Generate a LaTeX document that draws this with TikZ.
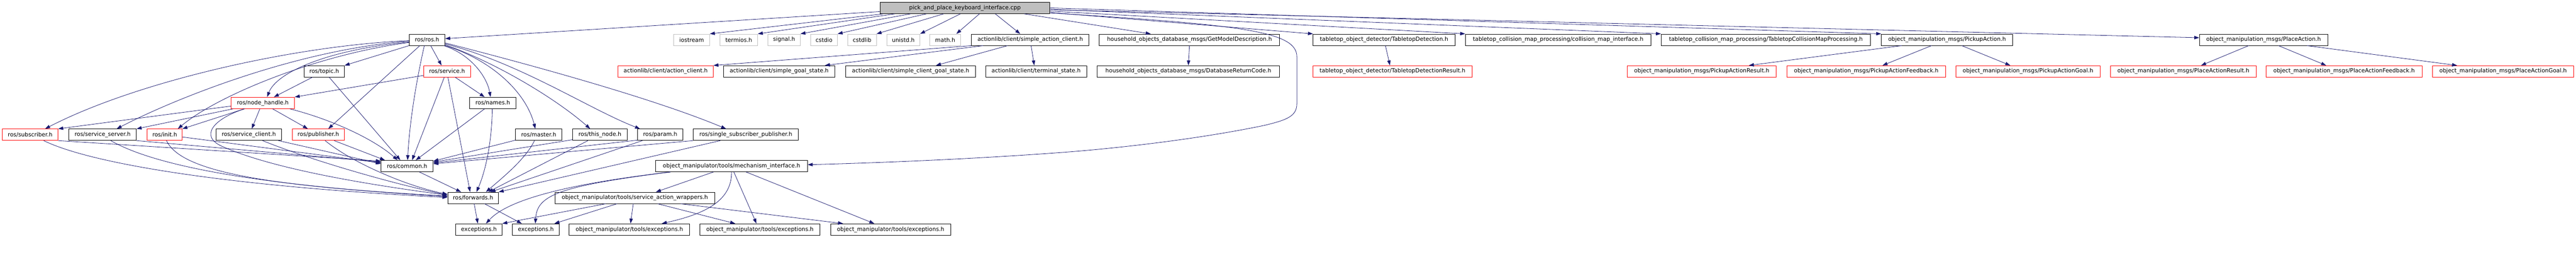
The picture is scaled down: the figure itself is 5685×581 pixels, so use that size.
\documentclass[tikz,border=0pt]{standalone}
\usepackage{fontspec}
\setmainfont{DejaVu Sans}
\usetikzlibrary{arrows.meta,calc}
\definecolor{edgec}{HTML}{191970}
\definecolor{redb}{HTML}{FF0000}
\definecolor{grayb}{HTML}{BFBFBF}
\tikzset{
  bx/.style={rectangle, inner sep=0pt, minimum height=25pt, line width=1pt, text=black,
             font=\fontsize{12.4pt}{14pt}\selectfont},
  nb/.style={bx, draw=black},
  nr/.style={bx, draw=redb},
  ng/.style={bx, draw=grayb},
  nroot/.style={bx, draw=black, fill=grayb},
  dep/.style={draw=edgec, line width=0.9pt, -{Triangle[length=11pt,width=7.5pt]}}
}
\begin{document}
\begin{tikzpicture}[x=1pt,y=-1pt]
\useasboundingbox (0,0) rectangle (5685,581);
% row 0
\node[nroot, minimum width=375pt] (root) at (2129.5,17.5) {pick\_and\_place\_keyboard\_interface.cpp};
% row 1
\node[nb, minimum width=79pt] (ros) at (942.5,87.5) {ros/ros.h};
\node[ng, minimum width=79pt] (iostream) at (1526.5,87.5) {iostream};
\node[ng, minimum width=83pt] (termios) at (1630.5,87.5) {termios.h};
\node[ng, minimum width=71pt] (signal) at (1730.5,87.5) {signal.h};
\node[ng, minimum width=59pt] (cstdio) at (1818.5,87.5) {cstdio};
\node[ng, minimum width=63pt] (cstdlib) at (1902.5,87.5) {cstdlib};
\node[ng, minimum width=73pt] (unistd) at (1993.5,87.5) {unistd.h};
\node[ng, minimum width=68pt] (math) at (2086,87.5) {math.h};
\node[nb, minimum width=259pt] (sac) at (2273.5,87.5) {actionlib/client/simple\_action\_client.h};
\node[nb, minimum width=398pt] (gmd) at (2625,87.5) {household\_objects\_database\_msgs/GetModelDescription.h};
\node[nb, minimum width=313pt] (td) at (3054.5,87.5) {tabletop\_object\_detector/TabletopDetection.h};
\node[nb, minimum width=409pt] (cmi) at (3438.5,87.5) {tabletop\_collision\_map\_processing/collision\_map\_interface.h};
\node[nb, minimum width=462pt] (tcmp) at (3897,87.5) {tabletop\_collision\_map\_processing/TabletopCollisionMapProcessing.h};
\node[nb, minimum width=290pt] (pa) at (4297,87.5) {object\_manipulation\_msgs/PickupAction.h};
\node[nb, minimum width=283pt] (pl) at (4995.5,87.5) {object\_manipulation\_msgs/PlaceAction.h};
% row 2
\node[nb, minimum width=89pt] (topic) at (715.5,157) {ros/topic.h};
\node[nr, minimum width=103pt] (service) at (986.5,157) {ros/service.h};
\node[nr, minimum width=210pt] (ac) at (1469,157) {actionlib/client/action\_client.h};
\node[nb, minimum width=245pt] (sgs) at (1719.5,157) {actionlib/client/simple\_goal\_state.h};
\node[nb, minimum width=287pt] (scgs) at (2009.5,157) {actionlib/client/simple\_client\_goal\_state.h};
\node[nb, minimum width=223pt] (ts) at (2286.5,157) {actionlib/client/terminal\_state.h};
\node[nb, minimum width=403pt] (drc) at (2622.5,157) {household\_objects\_database\_msgs/DatabaseReturnCode.h};
\node[nr, minimum width=352pt] (tdr) at (3073,157) {tabletop\_object\_detector/TabletopDetectionResult.h};
\node[nr, minimum width=329pt] (par) at (3755.5,157) {object\_manipulation\_msgs/PickupActionResult.h};
\node[nr, minimum width=351pt] (paf) at (4118.5,157) {object\_manipulation\_msgs/PickupActionFeedback.h};
\node[nr, minimum width=319pt] (pag) at (4475.5,157) {object\_manipulation\_msgs/PickupActionGoal.h};
\node[nr, minimum width=321pt] (plr) at (4818.5,157) {object\_manipulation\_msgs/PlaceActionResult.h};
\node[nr, minimum width=344pt] (plf) at (5173,157) {object\_manipulation\_msgs/PlaceActionFeedback.h};
\node[nr, minimum width=312pt] (plg) at (5524,157) {object\_manipulation\_msgs/PlaceActionGoal.h};
% row 3
\node[nr, minimum width=140pt] (nh) at (580,226.5) {ros/node\_handle.h};
\node[nb, minimum width=103pt] (names) at (1087.5,226.5) {ros/names.h};
% row 4
\node[nr, minimum width=123pt] (sub) at (66.5,296.5) {ros/subscriber.h};
\node[nb, minimum width=149pt] (ss) at (226.5,296.5) {ros/service\_server.h};
\node[nr, minimum width=77pt] (init) at (363.5,296.5) {ros/init.h};
\node[nb, minimum width=144pt] (sc) at (549,296.5) {ros/service\_client.h};
\node[nr, minimum width=115pt] (pub) at (702.5,296.5) {ros/publisher.h};
\node[nb, minimum width=102pt] (master) at (1189,296.5) {ros/master.h};
\node[nb, minimum width=120pt] (tn) at (1324,296.5) {ros/this\_node.h};
\node[nb, minimum width=100pt] (param) at (1457,296.5) {ros/param.h};
\node[nb, minimum width=232pt] (ssp) at (1646,296.5) {ros/single\_subscriber\_publisher.h};
% row 5
\node[nb, minimum width=115pt] (common) at (898.5,365.5) {ros/common.h};
\node[nb, minimum width=335pt] (mi) at (1614.5,365.5) {object\_manipulator/tools/mechanism\_interface.h};
% row 6
\node[nb, minimum width=112pt] (fwd) at (1044,435.5) {ros/forwards.h};
\node[nb, minimum width=352pt] (saw) at (1401,435.5) {object\_manipulator/tools/service\_action\_wrappers.h};
% row 7
\node[nb, minimum width=102pt] (ex1) at (1057,505) {exceptions.h};
\node[nb, minimum width=103pt] (ex2) at (1182.5,505) {exceptions.h};
\node[nb, minimum width=266pt] (ote1) at (1389,505) {object\_manipulator/tools/exceptions.h};
\node[nb, minimum width=266pt] (ote2) at (1677,505) {object\_manipulator/tools/exceptions.h};
\node[nb, minimum width=265pt] (ote3) at (1965.5,505) {object\_manipulator/tools/exceptions.h};

% ===== edges from root
\draw[dep] ($(root.south west)+(0,-5)$) -- ($(ros.east)+(0,-2.5)$);
\draw[dep] ($(root.south west)+(8,0)$) -- (iostream.north east);
\draw[dep] ($(root.south west)+(33,0)$) -- (termios.north east);
\draw[dep] ($(root.south west)+(68,0)$) -- (signal.north east);
\draw[dep] ($(root.south west)+(103,0)$) -- (cstdio.north east);
\draw[dep] ($(root.south west)+(141,0)$) -- (cstdlib.north east);
\draw[dep] ($(root.south west)+(178,0)$) -- (unistd.north east);
\draw[dep] ($(root.south west)+(220,0)$) -- ($(math.north east)+(-10,0)$);
\draw[dep] ($(root.south west)+(255,0)$) -- ($(sac.north west)+(108,0)$);
\draw[dep] ($(root.south east)+(-57,0)$) -- ($(gmd.north west)+(114,0)$);
\draw[dep] ($(root.east)+(0,10)$) -- (td.north west);
\draw[dep] ($(root.east)+(0,7)$) -- (cmi.north west);
\draw[dep] ($(root.east)+(0,3)$) -- (tcmp.north west);
\draw[dep] ($(root.east)+(0,0)$) -- (pa.north west);
\draw[dep] ($(root.east)+(0,4)$) -- ($(pl.west)+(0,-4.5)$);
\draw[dep] ($(root.east)+(0,11)$) .. controls (2750,55) and (2862,70) .. (2862,125)
   -- (2862,228) .. controls (2862,256) and (2840,264) .. (2790,276)
   .. controls (2650,305) and (2480,325) .. (2350,335)
   .. controls (2150,350) and (1950,358) .. ($(mi.east)+(0,-3)$);

% ===== ros.h
\draw[dep] (ros.south west) -- (topic.north east);
\draw[dep] ($(ros.north west)+(0,18)$) .. controls (720,110) and (610,160) .. ($(nh.north west)+(80,0)$);
\draw[dep] ($(ros.south west)+(24,0)$) -- ($(pub.north west)+(80,0)$);
\draw[dep] ($(ros.south west)+(34,0)$) .. controls (925,150) and (905,250) .. ($(common.north west)+(59,0)$);
\draw[dep] ($(ros.south west)+(48,0)$) -- ($(service.north west)+(40,0)$);
\draw[dep] ($(ros.south east)+(-3,0)$) .. controls (1040,120) and (1075,170) .. ($(names.north west)+(47,0)$);
\draw[dep] (ros.south east) .. controls (1080,130) and (1160,200) .. ($(master.north west)+(44,0)$);
\draw[dep] ($(ros.north east)+(0,24)$) .. controls (1100,140) and (1230,220) .. ($(tn.north west)+(39,0)$);
\draw[dep] ($(ros.north east)+(0,22)$) .. controls (1150,140) and (1300,240) .. ($(param.north west)+(6,0)$);
\draw[dep] ($(ros.north east)+(0,20)$) .. controls (1200,150) and (1450,220) .. ($(ssp.north west)+(73,0)$);
\draw[dep] ($(ros.north west)+(0,15)$) .. controls (650,100) and (300,180) .. ($(sub.north west)+(95,0)$);
\draw[dep] ($(ros.north west)+(0,16)$) .. controls (650,110) and (380,220) .. ($(ss.north west)+(106,0)$);
\draw[dep] ($(ros.north west)+(0,19)$) .. controls (700,120) and (480,210) .. ($(init.north west)+(68,0)$);

% ===== node_handle
\draw[dep] ($(nh.north west)+(0,20)$) -- (sub.north east);
\draw[dep] ($(nh.south west)+(5,0)$) -- (ss.north east);
\draw[dep] ($(nh.south west)+(30,0)$) -- (init.north east);
\draw[dep] ($(nh.south west)+(30,0)$) .. controls (470,262) and (440,300) .. (490,322)
   .. controls (620,380) and (880,415) .. ($(fwd.north west)+(0,7)$);
\draw[dep] ($(nh.south west)+(64,0)$) -- ($(sc.north west)+(79,0)$);
\draw[dep] ($(nh.south west)+(92,0)$) -- ($(pub.north west)+(35,0)$);
\draw[dep] ($(nh.south west)+(130,0)$) .. controls (740,265) and (830,310) .. ($(common.north west)+(37,0)$);

% ===== topic, service, names
\draw[dep] ($(topic.south west)+(19,0)$) -- ($(nh.north west)+(95,0)$);
\draw[dep] ($(topic.south west)+(56,0)$) -- ($(common.north west)+(43,0)$);
\draw[dep] ($(service.north west)+(0,22)$) -- (nh.north east);
\draw[dep] ($(service.south west)+(46,0)$) -- ($(common.north west)+(69,0)$);
\draw[dep] ($(service.south west)+(54,0)$) -- ($(fwd.north west)+(50,0)$);
\draw[dep] ($(service.south west)+(70,0)$) -- ($(names.north west)+(34,0)$);
\draw[dep] ($(names.south west)+(34,0)$) -- ($(common.north west)+(77,0)$);
\draw[dep] ($(names.south west)+(51,0)$) .. controls (1085,320) and (1070,380) .. ($(fwd.north west)+(64,0)$);

% ===== row 4 to common / forwards
\draw[dep] (sub.south east) -- ($(common.north west)+(0,2)$);
\draw[dep] ($(sub.south west)+(92,0)$) .. controls (200,360) and (500,410) .. ($(fwd.north west)+(0,12)$);
\draw[dep] (ss.south east) -- ($(common.north west)+(0,4)$);
\draw[dep] ($(ss.south west)+(93,0)$) .. controls (350,370) and (600,410) .. ($(fwd.north west)+(0,10)$);
\draw[dep] ($(init.north east)+(0,18)$) -- ($(common.north west)+(0,6)$);
\draw[dep] ($(init.south west)+(43,0)$) .. controls (400,380) and (600,410) .. ($(fwd.north west)+(0,9)$);
\draw[dep] ($(sc.south east)+(-7,0)$) -- ($(common.north west)+(0,8)$);
\draw[dep] ($(sc.south west)+(103,0)$) .. controls (680,350) and (850,400) .. ($(fwd.north west)+(0,7)$);
\draw[dep] ($(pub.south west)+(93,0)$) -- ($(common.north west)+(9,0)$);
\draw[dep] ($(pub.south west)+(73,0)$) .. controls (780,360) and (900,410) .. ($(fwd.north west)+(0,5)$);
\draw[dep] ($(master.south west)+(0,-1)$) -- ($(common.north east)+(0,2)$);
\draw[dep] ($(master.south west)+(42,0)$) .. controls (1160,350) and (1110,390) .. ($(fwd.north west)+(85,0)$);
\draw[dep] ($(tn.south west)+(0,-2)$) -- ($(common.north east)+(0,4)$);
\draw[dep] ($(tn.south west)+(34,0)$) -- ($(fwd.north west)+(90,0)$);
\draw[dep] ($(param.south west)+(0,-1)$) -- ($(common.north east)+(0,6)$);
\draw[dep] ($(param.south west)+(11,0)$) -- ($(fwd.north west)+(95,0)$);
\draw[dep] (ssp.south west) -- ($(common.north east)+(0,8)$);
\draw[dep] ($(ssp.south west)+(60,0)$) -- (fwd.north east);
\draw[dep] ($(common.south west)+(85,0)$) -- ($(fwd.north west)+(30,0)$);
\draw[dep] ($(fwd.south west)+(59,0)$) -- ($(ex1.north west)+(49,0)$);
\draw[dep] ($(fwd.south west)+(82,0)$) -- ($(ex2.north west)+(21,0)$);

% ===== mechanism_interface
\draw[dep] ($(mi.south west)+(128,0)$) -- ($(saw.north east)+(-130,0)$);
\draw[dep] ($(mi.south west)+(168,0)$) .. controls (1615,440) and (1560,470) .. ($(ote1.north east)+(-62,0)$);
\draw[dep] ($(mi.south west)+(173,0)$) -- ($(ote2.north west)+(126,0)$);
\draw[dep] ($(mi.south west)+(200,0)$) -- ($(ote3.north west)+(97,0)$);
\draw[dep] ($(mi.south west)+(33,0)$) .. controls (1250,405) and (1120,440) .. ($(ex1.north west)+(67,0)$);
\draw[dep] ($(mi.south west)+(33,0)$) .. controls (1230,410) and (1185,430) .. ($(ex2.north west)+(51,0)$);

% ===== service_action_wrappers
\draw[dep] ($(saw.south west)+(112,0)$) -- (ex1.north east);
\draw[dep] ($(saw.south west)+(137,0)$) -- ($(ex2.north east)+(-11,0)$);
\draw[dep] ($(saw.south west)+(173,0)$) -- ($(ote1.north west)+(136,0)$);
\draw[dep] ($(saw.south west)+(227,0)$) -- ($(ote2.north west)+(79,0)$);
\draw[dep] ($(saw.south west)+(278,0)$) -- ($(ote3.north west)+(28,0)$);

% ===== simple_action_client
\draw[dep] (sac.south west) -- (ac.north east);
\draw[dep] ($(sac.south west)+(26,0)$) -- ($(sgs.north west)+(224,0)$);
\draw[dep] ($(sac.south west)+(80,0)$) -- ($(scgs.north west)+(200,0)$);
\draw[dep] ($(sac.south west)+(132,0)$) -- ($(ts.north west)+(108,0)$);

% ===== other
\draw[dep] (gmd.south) -- (drc.north);
\draw[dep] ($(td.south west)+(160,0)$) -- ($(tdr.north west)+(171,0)$);
\draw[dep] ($(pa.south west)+(45,0)$) -- ($(par.north west)+(269,0)$);
\draw[dep] ($(pa.south west)+(111,0)$) -- ($(paf.north west)+(212,0)$);
\draw[dep] ($(pa.south west)+(178,0)$) -- ($(pag.north west)+(121,0)$);
\draw[dep] ($(pl.south west)+(109,0)$) -- ($(plr.north west)+(200,0)$);
\draw[dep] ($(pl.south west)+(175,0)$) -- ($(plf.north west)+(133,0)$);
\draw[dep] ($(pl.south west)+(238,0)$) -- ($(plg.north west)+(55,0)$);
\end{tikzpicture}
\end{document}
